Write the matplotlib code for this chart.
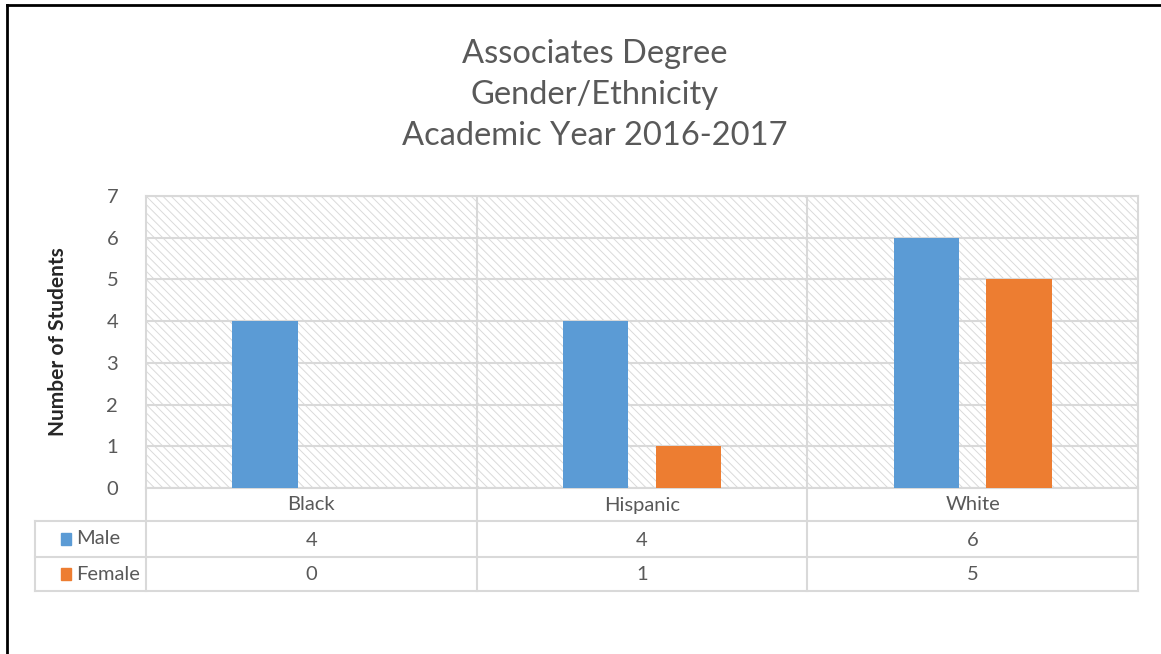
import numpy as np
import matplotlib
matplotlib.use("Agg")
from matplotlib import pyplot as plt
from matplotlib.patches import Rectangle

plt.rcParams['font.family'] = ['Lato', 'DejaVu Sans']
plt.rcParams['hatch.color'] = '#dadada'
plt.rcParams['hatch.linewidth'] = 0.7

categories = ['Black', 'Hispanic', 'White']
series = ['Male', 'Female']
male = [4, 4, 6]
female = [0, 1, 5]
colors = ['#5b9bd5', '#ed7d31']
title = 'Associates Degree\nGender/Ethnicity\nAcademic Year 2016-2017'

W, H = 1161, 654
fig = plt.figure(figsize=(W / 100, H / 100), dpi=100)

def fx(px):
    return px / W

def fy(py):
    return 1 - py / H

x0, x1, ytop, ybot = 146, 1138, 196, 488
ax = fig.add_axes([fx(x0), fy(ybot), fx(x1 - x0), (ybot - ytop) / H])

grid_c = '#d9d9d9'
ax.set_xlim(0, len(categories))
ax.set_ylim(0, 7)
ax.add_patch(Rectangle((0, 0), 3, 7, facecolor='white', edgecolor='#dadada', linewidth=0,
                       hatch='\\\\\\\\', zorder=0))
ax.set_yticks(range(0, 8))
ax.yaxis.grid(True, color=grid_c, lw=1.5, zorder=1)
ax.set_xticks([1, 2], minor=False)
ax.xaxis.grid(True, color=grid_c, lw=1.5, zorder=1)
ax.set_xticklabels([])
ax.tick_params(length=0, labelsize=14.5, labelcolor='#595959', pad=20)
ax.set_axisbelow(True)
for s in ax.spines.values():
    s.set_color(grid_c)
    s.set_linewidth(1.5)

pos = np.arange(len(categories)) + 0.5
bw = 0.197
ax.bar(pos - 0.14, male, bw, color=colors[0], zorder=3)
ax.bar(pos + 0.14, female, bw, color=colors[1], zorder=3)

ax.set_ylabel('Number of Students', fontsize=15, fontweight='bold', color='#262626', labelpad=28)

# data table beneath the plot
rows_y = [488, 521, 557, 591]
left_x = 35
col_x = [x0 + (x1 - x0) * i / 3 for i in range(4)]
lk = dict(color=grid_c, lw=1.5, transform=fig.transFigure)
for ry in rows_y[1:]:
    fig.add_artist(plt.Line2D([fx(left_x), fx(x1)], [fy(ry), fy(ry)], **lk))
fig.add_artist(plt.Line2D([fx(left_x), fx(left_x)], [fy(521), fy(591)], **lk))
for cx in col_x:
    fig.add_artist(plt.Line2D([fx(cx), fx(cx)], [fy(488), fy(591)], **lk))

tk = dict(fontsize=14.5, color='#595959', ha='center', va='center')
for j, cat in enumerate(categories):
    cx = (col_x[j] + col_x[j + 1]) / 2
    fig.text(fx(cx), fy(505), cat, **tk)
    fig.text(fx(cx), fy(540), str(male[j]), **tk)
    fig.text(fx(cx), fy(575), str(female[j]), **tk)
for k, (name, c) in enumerate(zip(series, colors)):
    cy = (rows_y[k + 1] + rows_y[k + 2]) / 2
    fig.add_artist(Rectangle((fx(61), fy(cy + 6)), fx(10), 12 / H, color=c, transform=fig.transFigure))
    fig.text(fx(76), fy(cy), name, fontsize=14.5, color='#595959', ha='left', va='center')

fig.text(fx(595), fy(95), title, fontsize=23.5, color='#595959', ha='center', va='center', linespacing=1.45)

# chart frame (top and left edges visible)
bk = dict(color='black', lw=2, transform=fig.transFigure)
fig.add_artist(plt.Line2D([fx(7), 1], [fy(5), fy(5)], **bk))
fig.add_artist(plt.Line2D([fx(7), fx(7)], [fy(5), 0], **bk))

fig.savefig('out.png', dpi=100)
